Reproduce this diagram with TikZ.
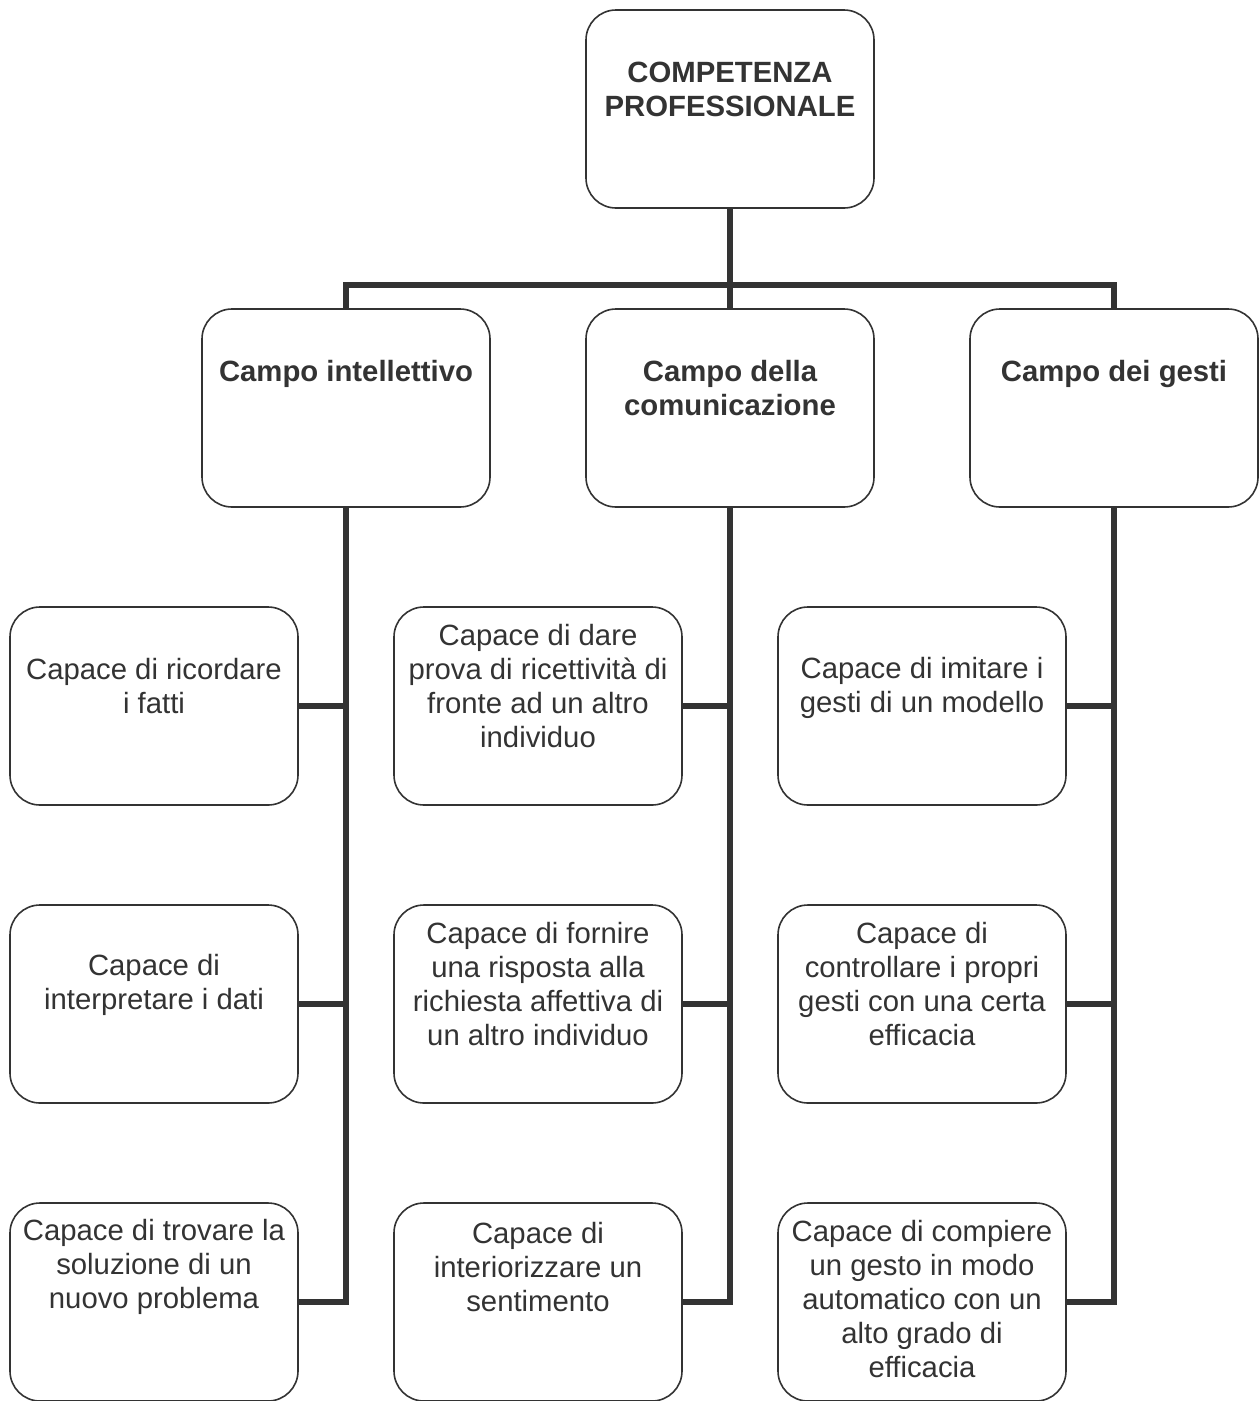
\documentclass[tikz,border=0pt]{standalone}
\usepackage{fontspec}
\setmainfont{Liberation Sans}
\definecolor{ink}{HTML}{333333}
\begin{document}
\begin{tikzpicture}[x=1pt,y=-1pt,
  box/.style={draw=ink,line width=1.6pt,rounded corners=30pt,minimum width=288pt,minimum height=198pt,inner sep=0pt,fill=white},
  txt/.style={text=ink,align=center,font=\fontsize{29.3}{34}\selectfont,inner sep=0pt},
  btxt/.style={txt,font=\fontsize{29.3}{34}\selectfont\bfseries},
  conn/.style={draw=ink,line width=5.5pt}]
\useasboundingbox (0,0) rectangle (1260,1401);
% boxes
\node[box] (top) at (730,109) {};
\node[box] (a) at (346,408) {};
\node[box] (b) at (730,408) {};
\node[box] (c) at (1114,408) {};
\node[box] (a1) at (154,706) {};
\node[box] (a2) at (154,1004) {};
\node[box] (a3) at (154,1302) {};
\node[box] (b1) at (538,706) {};
\node[box] (b2) at (538,1004) {};
\node[box] (b3) at (538,1302) {};
\node[box] (c1) at (922,706) {};
\node[box] (c2) at (922,1004) {};
\node[box] (c3) at (922,1302) {};
% connectors
\coordinate (bus) at (730,285);
\draw[conn] (top.south) -- (bus);
\draw[conn] (a.north) |- (bus) -| (c.north);
\draw[conn] (bus) -- (b.north);
\draw[conn] (a.south) |- (a3.east);
\draw[conn] (a1.east) -- (a1.east -| a.south);
\draw[conn] (a2.east) -- (a2.east -| a.south);
\draw[conn] (b.south) |- (b3.east);
\draw[conn] (b1.east) -- (b1.east -| b.south);
\draw[conn] (b2.east) -- (b2.east -| b.south);
\draw[conn] (c.south) |- (c3.east);
\draw[conn] (c1.east) -- (c1.east -| c.south);
\draw[conn] (c2.east) -- (c2.east -| c.south);
% texts
\node[btxt] (ttop) at (730,89) {COMPETENZA\\PROFESSIONALE};
\node[btxt] (ta) at (346,374) {Campo intellettivo};
\node[btxt] (tb) at (730,388) {Campo della\\comunicazione};
\node[btxt] (tc) at (1114,374) {Campo dei gesti};
\node[txt] (ta1) at (154,686) {Capace di ricordare\\i fatti};
\node[txt] (ta2) at (154,985) {Capace di\\interpretare i dati};
\node[txt] (ta3) at (154,1267) {Capace di trovare la\\soluzione di un\\nuovo problema};
\node[txt] (tb1) at (538,686) {Capace di dare\\prova di ricettività di\\fronte ad un altro\\individuo};
\node[txt] (tb2) at (538,984) {Capace di fornire\\una risposta alla\\richiesta affettiva di\\un altro individuo};
\node[txt] (tb3) at (538,1267) {Capace di\\interiorizzare un\\sentimento};
\node[txt] (tc1) at (922,688) {Capace di imitare i\\gesti di un modello};
\node[txt] (tc2) at (922,984) {Capace di\\controllare i propri\\gesti con una certa\\efficacia};
\node[txt] (tc3) at (922,1299) {Capace di compiere\\un gesto in modo\\automatico con un\\alto grado di\\efficacia};
\end{tikzpicture}
\end{document}
